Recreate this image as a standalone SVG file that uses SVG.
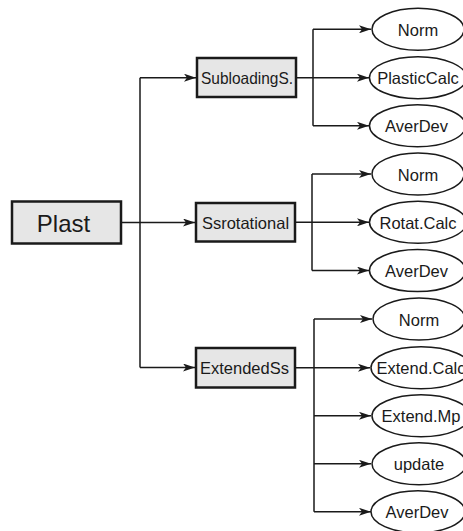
<svg xmlns="http://www.w3.org/2000/svg" width="463" height="531" viewBox="0 0 463 531">
  <defs>
    <marker id="arrow" viewBox="0 0 12 8" refX="12" refY="4" markerWidth="12" markerHeight="8" markerUnits="userSpaceOnUse" orient="auto">
      <path d="M0,0 L12,4 L0,8 L3,4 Z" fill="#1a1a1a"/>
    </marker>
  </defs>
  <style>
    .box { fill: #e6e6e6; stroke: #1a1a1a; stroke-width: 2.5; }
    .leaf { fill: #ffffff; stroke: #1a1a1a; stroke-width: 1.5; }
    .wire { fill: none; stroke: #1a1a1a; stroke-width: 1.5; }
    .arr { marker-end: url(#arrow); }
    text { font-family: "Liberation Sans", Arial, sans-serif; fill: #1a1a1a; text-anchor: middle; dominant-baseline: central; }
    .t { font-size: 16.5px; }
    .big { font-size: 24px; }
  </style>
  <rect width="463" height="531" fill="#ffffff"/>

  <g id="connectors">
    <!-- root trunk -->
    <path class="wire" d="M121,222.5 H140 M140,77.7 V367.5"/>
    <path class="wire arr" d="M140,77.7 H196"/>
    <path class="wire arr" d="M140,222.5 H195"/>
    <path class="wire arr" d="M140,367.5 H195"/>
    <!-- SubloadingS. branch -->
    <path class="wire" d="M296,77.7 H313 M313,29.3 V125.8"/>
    <path class="wire arr" d="M313,29.3 H371"/>
    <path class="wire arr" d="M313,77.7 H369"/>
    <path class="wire arr" d="M313,125.8 H369"/>
    <!-- Ssrotational branch -->
    <path class="wire" d="M295,222.3 H312 M312,174 V270.6"/>
    <path class="wire arr" d="M312,174 H371"/>
    <path class="wire arr" d="M312,222.3 H369"/>
    <path class="wire arr" d="M312,270.6 H369"/>
    <!-- ExtendedSs branch -->
    <path class="wire" d="M295,367.8 H314 M314,319 V511.8"/>
    <path class="wire arr" d="M314,319 H372"/>
    <path class="wire arr" d="M314,367.8 H370"/>
    <path class="wire arr" d="M314,415.8 H371"/>
    <path class="wire arr" d="M314,463.8 H371"/>
    <path class="wire arr" d="M314,511.8 H371"/>
  </g>

  <g id="plast">
    <rect class="box" x="12" y="201.5" width="109" height="42"/>
    <text class="big" x="63.5" y="223">Plast</text>
  </g>

  <g id="subloading">
    <rect class="box" x="197" y="58" width="99" height="39"/>
    <text class="t" x="247" y="78" textLength="92" lengthAdjust="spacingAndGlyphs">SubloadingS.</text>
  </g>
  <g id="ssrotational">
    <rect class="box" x="196" y="203" width="99" height="38.5"/>
    <text class="t" x="245.5" y="222.5">Ssrotational</text>
  </g>
  <g id="extendedss">
    <rect class="box" x="196" y="348" width="99" height="39.5"/>
    <text class="t" x="244.5" y="368">ExtendedSs</text>
  </g>

  <g id="sub-norm">
    <ellipse class="leaf" cx="418" cy="29.3" rx="46" ry="21"/>
    <text class="t" x="418" y="29.8">Norm</text>
  </g>
  <g id="sub-plasticcalc">
    <ellipse class="leaf" cx="418" cy="77.7" rx="48.5" ry="21"/>
    <text class="t" x="418" y="78.2">PlasticCalc</text>
  </g>
  <g id="sub-averdev">
    <ellipse class="leaf" cx="417.5" cy="125.8" rx="48" ry="21"/>
    <text class="t" x="416.5" y="126.3">AverDev</text>
  </g>

  <g id="rot-norm">
    <ellipse class="leaf" cx="418" cy="174" rx="46" ry="21"/>
    <text class="t" x="418" y="174.5">Norm</text>
  </g>
  <g id="rot-calc">
    <ellipse class="leaf" cx="418" cy="222.3" rx="48.5" ry="21"/>
    <text class="t" x="418" y="222.8">Rotat.Calc</text>
  </g>
  <g id="rot-averdev">
    <ellipse class="leaf" cx="417.5" cy="270.6" rx="48" ry="21"/>
    <text class="t" x="416.5" y="271.1">AverDev</text>
  </g>

  <g id="ext-norm">
    <ellipse class="leaf" cx="419" cy="319" rx="46" ry="21"/>
    <text class="t" x="419" y="319.5">Norm</text>
  </g>
  <g id="ext-calc">
    <ellipse class="leaf" cx="421" cy="367.8" rx="50" ry="21"/>
    <text class="t" x="421" y="368.3">Extend.Calc</text>
  </g>
  <g id="ext-mp">
    <ellipse class="leaf" cx="421" cy="415.8" rx="49" ry="21"/>
    <text class="t" x="421" y="416.3">Extend.Mp</text>
  </g>
  <g id="ext-update">
    <ellipse class="leaf" cx="419" cy="463.8" rx="47" ry="21"/>
    <text class="t" x="419" y="464.3">update</text>
  </g>
  <g id="ext-averdev">
    <ellipse class="leaf" cx="418" cy="511.8" rx="47" ry="21"/>
    <text class="t" x="417" y="512.3">AverDev</text>
  </g>
</svg>
